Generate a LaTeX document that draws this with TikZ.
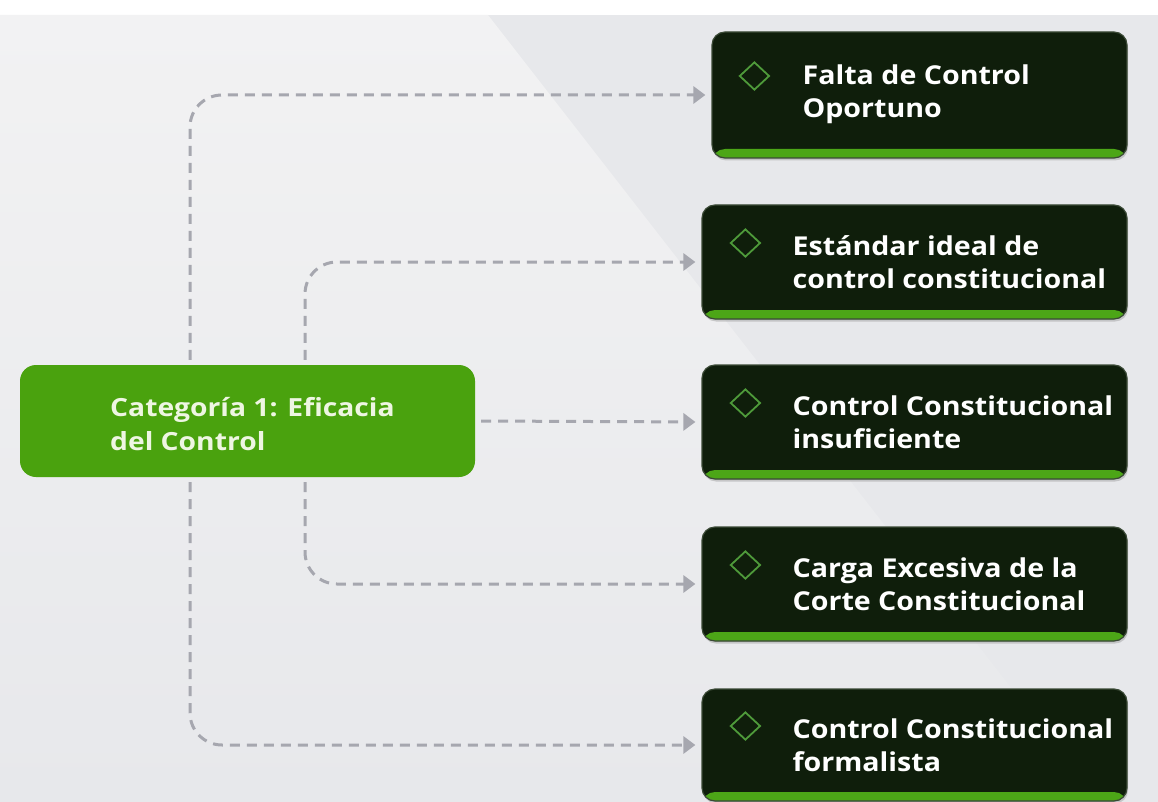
\documentclass[tikz,border=0pt]{standalone}
\usepackage{fontspec}
\setmainfont{Open Sans}
\newfontfamily\mainf[FakeStretch=1.13]{Open Sans}
\newfontfamily\boxf[FakeStretch=1.10]{Open Sans}
\usetikzlibrary{arrows.meta,shapes.geometric,shadows}
\definecolor{bggrey}{HTML}{E7E8EB}
\definecolor{bglight}{HTML}{F2F2F3}
\definecolor{maingreen}{HTML}{4AA20E}
\definecolor{boxdark}{HTML}{0F1E0B}
\definecolor{boxedge}{HTML}{3B4A36}
\definecolor{stripgreen}{HTML}{4CA617}
\definecolor{icongreen}{HTML}{4E9A3A}
\definecolor{conngrey}{HTML}{A6A7AF}
\definecolor{maintextc}{HTML}{EEF6E2}
\begin{document}
\begin{tikzpicture}[x=1pt,y=-1pt,
  mainbox/.style={rectangle, rounded corners=16pt, fill=maingreen, minimum width=455pt, minimum height=112pt, inner sep=0pt},
  darkbox/.style={rectangle, rounded corners=13pt, fill=boxdark, draw=boxedge, line width=1.2pt,
    minimum width=425pt, minimum height=114pt, inner sep=0pt,
    drop shadow={shadow xshift=1pt, shadow yshift=-2.5pt, fill=black!40, opacity=0.45},
    path picture={\fill[stripgreen] ([yshift=9pt]path picture bounding box.south west) rectangle (path picture bounding box.south east);}},
  boxtext/.style={anchor=west, text=white, align=left, inner sep=0pt, font=\boxf\fontsize{26}{33}\selectfont\bfseries},
  maintext/.style={anchor=west, text=maintextc, align=left, inner sep=0pt, font=\mainf\fontsize{25}{34}\selectfont\bfseries},
  icon/.style={diamond, draw=icongreen, line width=1.8pt, minimum width=30pt, minimum height=28pt, inner sep=0pt},
  conn/.style={draw=conngrey, line width=3pt, dash pattern=on 10pt off 7pt, rounded corners=32pt,
    -{Triangle[length=12pt,width=17pt,fill=conngrey]}, shorten >=6pt}
]
\useasboundingbox (0,0) rectangle (1158,802);
% background
\fill[white] (0,0) rectangle (1158,802);
\fill[bggrey] (0,15) rectangle (1158,802);
\shade[top color=bglight, bottom color=bggrey] (0,15) -- (488,15) -- (1100,802) -- (0,802) -- cycle;

% main node
\node[mainbox] (main) at (247.5,421) {};
\node[maintext] (maint) at (110,424) {Categoría 1: Eficacia\\del Control};

% right boxes
\node[darkbox, minimum width=415pt, minimum height=126pt] (b1) at (919.5,95) {};
\node[darkbox] (b2) at (914.5,262) {};
\node[darkbox] (b3) at (914.5,422) {};
\node[darkbox] (b4) at (914.5,584) {};
\node[darkbox, minimum height=112pt] (b5) at (914.5,745) {};

\node[icon] (i1) at ([xshift=43pt,yshift=19pt]b1.west) {};
\node[icon] (i2) at ([xshift=44pt,yshift=19pt]b2.west) {};
\node[icon] (i3) at ([xshift=44pt,yshift=19pt]b3.west) {};
\node[icon] (i4) at ([xshift=44pt,yshift=19pt]b4.west) {};
\node[icon] (i5) at ([xshift=44pt,yshift=19pt]b5.west) {};

\node[boxtext] (t1) at ([xshift=91pt,yshift=1pt]b1.west) {Falta de Control\\Oportuno};
\node[boxtext] (t2) at ([xshift=91pt]b2.west) {Estándar ideal de\\control constitucional};
\node[boxtext] (t3) at ([xshift=91pt]b3.west) {Control Constitucional\\insuficiente};
\node[boxtext] (t4) at ([xshift=91pt]b4.west) {Carga Excesiva de la\\Corte Constitucional};
\node[boxtext] (t5) at ([xshift=91pt]b5.west) {Control Constitucional\\formalista};

% connectors
\draw[conn] ([xshift=-57.5pt,yshift=5pt]main.north) |- (b1.west);
\draw[conn] ([xshift=57.5pt,yshift=5pt]main.north) |- (b2.west);
\draw[conn] ([xshift=6pt]main.east) -- (b3.west);
\draw[conn] ([xshift=57.5pt,yshift=-5pt]main.south) |- (b4.west);
\draw[conn] ([xshift=-57.5pt,yshift=-5pt]main.south) |- (b5.west);
\end{tikzpicture}
\end{document}
